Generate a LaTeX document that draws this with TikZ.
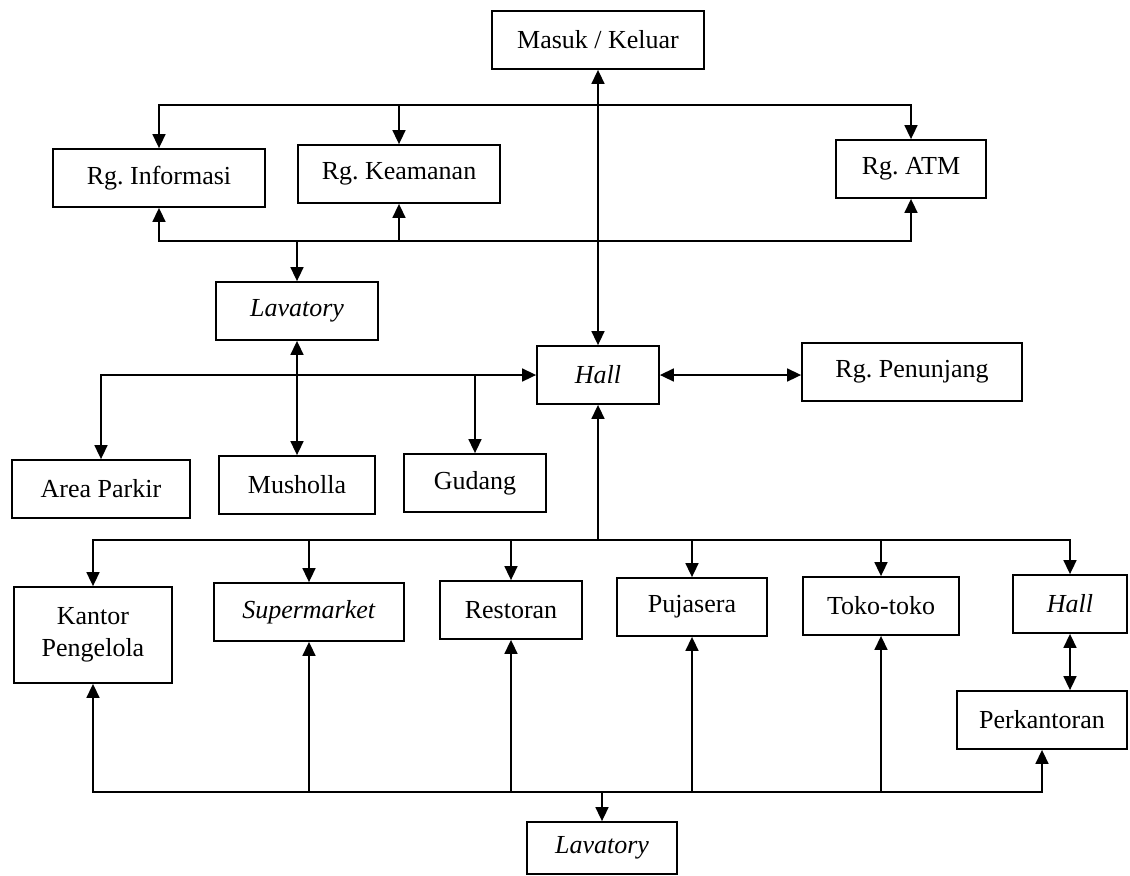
\documentclass[tikz,border=0pt]{standalone}
\usepackage{fontspec}
\setmainfont{Liberation Serif}
\usetikzlibrary{arrows.meta}
\frenchspacing
\tikzset{
  ruang/.style={draw, line width=0.9pt, minimum height=29pt, inner sep=2pt, align=center,
    font=\fontsize{13}{16}\selectfont},
}

\begin{document}
\begin{tikzpicture}[x=0.5pt, y=-0.5pt, line width=0.8pt, >={Triangle[length=7pt, width=6.5pt]}]
    \useasboundingbox (0,0) rectangle (1130,875);

    % rooms
    \node[ruang, minimum width=106pt] (masuk) at (598,40) {Masuk / Keluar};
    \node[ruang, minimum width=106pt] (info) at (159,178) {Rg. Informasi};
    \node[ruang, minimum width=101pt] (keamanan) at (399,174) {Rg. Keamanan};
    \node[ruang, minimum width=75pt] (atm) at (911,169) {Rg. ATM};
    \node[ruang, minimum width=81pt] (lavA) at (297,311) {\textit{Lavatory}};
    \node[ruang, minimum width=61pt] (hall) at (598,375) {\textit{Hall}};
    \node[ruang, minimum width=110pt] (penunjang) at (912,372) {Rg. Penunjang};
    \node[ruang, minimum width=89pt] (parkir) at (101,489) {Area Parkir};
    \node[ruang, minimum width=78pt] (musholla) at (297,485) {Musholla};
    \node[ruang, minimum width=71pt] (gudang) at (475,483) {Gudang};
    \node[ruang, minimum width=79pt, minimum height=48pt] (kantor) at (93,635) {Kantor\\Pengelola};
    \node[ruang, minimum width=95pt] (supermarket) at (309,612) {\textit{Supermarket}};
    \node[ruang, minimum width=71pt] (restoran) at (511,610) {Restoran};
    \node[ruang, minimum width=75pt] (pujasera) at (692,607) {Pujasera};
    \node[ruang, minimum width=78pt] (toko) at (881,606) {Toko-toko};
    \node[ruang, minimum width=57pt] (hallB) at (1070,604) {\textit{Hall}};
    \node[ruang, minimum width=85pt] (perkantoran) at (1042,720) {Perkantoran};
    \node[ruang, minimum width=75pt, minimum height=26pt] (lavB) at (602,848) {\textit{Lavatory}};

    % bus levels
    \coordinate (busA) at (0,105);
    \coordinate (busB) at (0,241);
    \coordinate (busD) at (0,540);
    \coordinate (busE) at (0,792);

    % entrance
    \draw[<->] (masuk) -- (hall);

    % front rooms
    \draw[<->] (info.north) -- (info.north |- busA) -| (atm.north);
    \draw[->] (keamanan.north |- busA) -- (keamanan.north);
    \draw[<->] (info.south) -- (info.south |- busB) -| (atm.south);
    \draw[->] (keamanan.south |- busB) -- (keamanan.south);
    \draw[->] (lavA.north |- busB) -- (lavA.north);
    \draw[<->] (lavA) -- (musholla);

    % hall, left and right
    \draw[<->] (parkir.north) |- (hall.west);
    \draw[->] (gudang.north |- hall.west) -- (gudang.north);
    \draw[<->] (hall.east) -- (hall.east -| penunjang.west);

    % hall, downwards
    \draw[->] (hall.south |- busD) -- (hall.south);
    \draw[<->] (kantor.north) -- (kantor.north |- busD) -| (hallB.north);
    \foreach \n in {supermarket, restoran, pujasera, toko} {
        \draw[->] (\n.north |- busD) -- (\n.north);
    }
    \draw[<->] (hallB.south) -- (hallB.south |- perkantoran.north);

    % lavatory bus
    \draw[<->] (kantor.south) -- (kantor.south |- busE) -| (perkantoran.south);
    \foreach \n in {supermarket, restoran, pujasera, toko} {
        \draw[->] (\n.south |- busE) -- (\n.south);
    }
    \draw[->] (lavB.north |- busE) -- (lavB.north);
\end{tikzpicture}
\end{document}
